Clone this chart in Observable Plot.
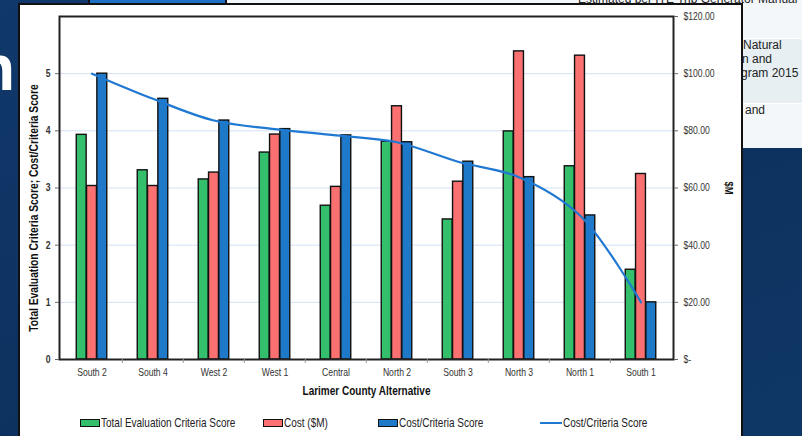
<!DOCTYPE html>
<html>
<head>
<meta charset="utf-8">
<script src="https://cdn.jsdelivr.net/npm/d3@7"></script>
<script src="https://cdn.jsdelivr.net/npm/@observablehq/plot@0.6"></script>
<style>
  html, body { margin:0; padding:0; }
  body { width:802px; height:436px; overflow:hidden; position:relative;
         background: linear-gradient(160deg, #10386a 0%, #0d3260 60%, #0f3766 100%);
         font-family: "Liberation Sans", Arial, sans-serif; }
  .abs { position:absolute; }
  #chart { position:absolute; left:0; top:0; }
  .leg { position:absolute; top:416px; font-size:12.2px; color:#222; white-space:nowrap; line-height:14px; }
  .leg .tx { display:inline-block; transform:scaleX(0.82); transform-origin:left center; }
  .sw { display:inline-block; width:18px; height:6px; border:1.5px solid #111; vertical-align:middle; margin-right:1px; position:relative; top:-1px; }
  .ln { display:inline-block; width:22px; height:0; border-top:2.5px solid #1f78d1; vertical-align:middle; margin-right:1px; position:relative; top:-1px; }
  .tbl { font-size:12px; color:#222; white-space:nowrap; }
</style>
</head>
<body>
<!-- background slide pieces -->
<div class="abs" style="left:-24px; top:36px; font:bold 64px 'Liberation Sans', Arial, sans-serif; color:#fff; line-height:1;">n</div>
<div class="abs" style="left:225px; top:0; width:577px; height:148px; background:#f3f7f9;"></div>
<div class="abs" style="left:225px; top:38px; width:577px; height:64px; background:#e7eff2; border-top:1px solid #fff; border-bottom:1px solid #fff;"></div>
<div class="abs" style="left:88px; top:0; width:135px; height:4px; background:#1a6fc4; border-left:2px solid #111; border-right:2px solid #111;"></div>
<div class="abs tbl" style="left:578px; top:-8px;">Estimated per ITE Trip Generator Manual</div>
<div class="abs tbl" style="left:743px; top:38px;">Natural</div>
<div class="abs tbl" style="left:742px; top:52px;">n and</div>
<div class="abs tbl" style="left:741px; top:66px;">gram 2015</div>
<div class="abs tbl" style="left:745px; top:103px;">and</div>
<!-- chart card -->
<div class="abs" style="left:18px; top:3px; width:721px; height:440px; background:#fff; border:2px solid #111;"></div>
<div id="chart"></div>
<div id="legend"></div>
<script>
const categories = ["South 2","South 4","West 2","West 1","Central","North 2","South 3","North 3","North 1","South 1"];
const totalScore = [3.93, 3.31, 3.15, 3.62, 2.69, 3.81, 2.45, 3.99, 3.38, 1.57];
const costM      = [60.7, 60.7, 65.4, 78.7, 60.4, 88.6, 62.2, 107.8, 106.3, 64.9];
const costPerScore = [5.00, 4.56, 4.18, 4.03, 3.92, 3.80, 3.46, 3.19, 2.52, 1.00];
const seriesNames = ["Total Evaluation Criteria Score", "Cost ($M)", "Cost/Criteria Score", "Cost/Criteria Score"];
const leftTicks = [0, 1, 2, 3, 4, 5];
const rightTicksM = [0, 20, 40, 60, 80, 100, 120];
const colors = {green:"#34bf6c", red:"#fb7070", blue:"#1f79c9", line:"#1f78d1"};

const rows = categories.map((c, i) => ({cat:c, score:totalScore[i], cost:costM[i], ratio:costPerScore[i]}));
const costToLeft = v => v / 20; // $120 aligns with score 6

const W = 802, H = 436, mL = 59, mR = 129, mT = 16, mB = 77;
const step = (W - mL - mR) / categories.length;
const c = step / 2, bw = 10.3, hb = bw * 1.5;
const font = '"Liberation Sans", Arial, sans-serif';

const chart = Plot.plot({
  width: W, height: H,
  marginLeft: mL, marginRight: mR, marginTop: mT, marginBottom: mB,
  x: {domain: categories, padding: 0, axis: null},
  y: {domain: [0, 6], axis: null},
  style: {background: "transparent", fontFamily: font, fontSize: "10.5px", color: "#333", overflow: "visible"},
  marks: [
    Plot.ruleY(leftTicks.filter(d => d > 0), {stroke: "#d3e1f4", strokeWidth: 1}),
    Plot.barY(rows, {x: "cat", y: "score", fill: colors.green, stroke: "#111", strokeWidth: 1.4,
      insetLeft: c - hb, insetRight: c + bw / 2}),
    Plot.barY(rows, {x: "cat", y: d => costToLeft(d.cost), fill: colors.red, stroke: "#111", strokeWidth: 1.4,
      insetLeft: c - bw / 2, insetRight: c - bw / 2}),
    Plot.barY(rows, {x: "cat", y: "ratio", fill: colors.blue, stroke: "#111", strokeWidth: 1.4,
      insetLeft: c + bw / 2, insetRight: c - hb}),
    Plot.line(rows, {x: "cat", y: "ratio", stroke: colors.line, strokeWidth: 2.2, curve: "catmull-rom"}),
    Plot.frame({stroke: "#222", strokeWidth: 2}),
    Plot.ruleX(categories.slice(1), {x: d => d, dx: -step / 2, insetTop: H - mT - mB, insetBottom: -4, stroke: "#999"}),
    Plot.axisY({ticks: leftTicks, tickSize: 4, tickPadding: 5, fontWeight: "bold", label: null, stroke: "#666",
      tickFormat: d => String(d)}),
    Plot.axisY({anchor: "right", ticks: rightTicksM.map(costToLeft), tickSize: 4, tickPadding: 6, label: null, stroke: "#666",
      tickFormat: d => d === 0 ? "$-" : "$" + (d * 20).toFixed(2)}),
    Plot.axisX({tickSize: 0, tickPadding: 9, label: null}),
    Plot.text(["Total Evaluation Criteria Score; Cost/Criteria Score"], {frameAnchor: "left", textAnchor: "middle",
      dx: -26, dy: 20, rotate: -90, fontWeight: "bold", fontSize: 12.5, fill: "#111"}),
    Plot.text(["$M"], {frameAnchor: "right", textAnchor: "middle", dx: 55, rotate: 90,
      fontWeight: "bold", fontSize: 11.5, fill: "#111"}),
    Plot.text(["Larimer County Alternative"], {frameAnchor: "bottom", textAnchor: "middle", dy: 35,
      fontWeight: "bold", fontSize: 12.2, fill: "#111"})
  ]
});
document.getElementById("chart").appendChild(chart);

// emulate the narrow (Arial Narrow-like) face of the original
chart.querySelectorAll("text").forEach(t => {
  const len = t.getComputedTextLength();
  if (len > 0) {
    t.setAttribute("textLength", (len * 0.82).toFixed(2));
    t.setAttribute("lengthAdjust", "spacingAndGlyphs");
  }
});

// legend
const legendItems = [
  {name: seriesNames[0], kind: "bar", color: colors.green, x: 80},
  {name: seriesNames[1], kind: "bar", color: colors.red, x: 263},
  {name: seriesNames[2], kind: "bar", color: colors.blue, x: 378},
  {name: seriesNames[3], kind: "line", color: colors.line, x: 540}
];
const leg = document.getElementById("legend");
for (const it of legendItems) {
  const d = document.createElement("div");
  d.className = "leg";
  d.style.left = it.x + "px";
  const s = document.createElement("span");
  s.className = it.kind === "bar" ? "sw" : "ln";
  if (it.kind === "bar") s.style.background = it.color;
  const t = document.createElement("span");
  t.className = "tx";
  t.textContent = it.name;
  d.appendChild(s); d.appendChild(t);
  leg.appendChild(d);
}
</script>
</body>
</html>
